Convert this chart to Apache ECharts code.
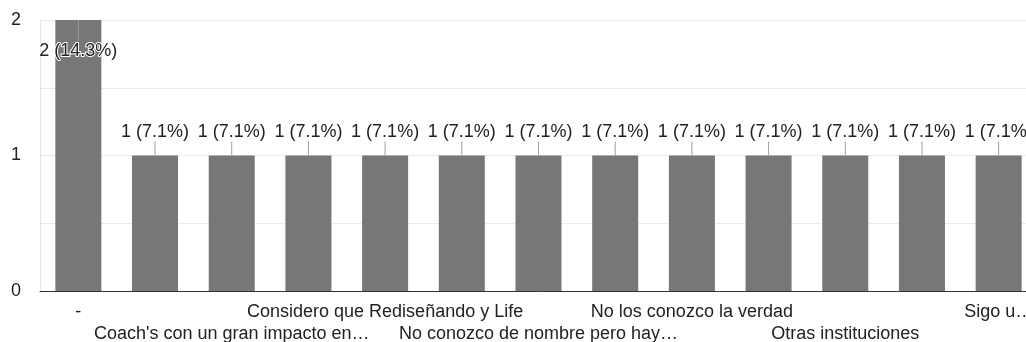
<!DOCTYPE html>
<html>
<head>
<meta charset="utf-8">
<script src="https://cdn.jsdelivr.net/npm/echarts@6/dist/echarts.min.js"></script>
<style>
  html, body { margin: 0; padding: 0; background: #fff; overflow: hidden; }
  #wrap { width: 1026px; height: 342px; overflow: hidden; }
  /* the plot runs a little past the right edge of the view */
  #chart { width: 1037px; height: 342px; }
</style>
</head>
<body>
<div id="wrap"><div id="chart"></div></div>
<script>
// Responses per option (alphabetical order of the answers)
const categories = [
  '-',
  'Charlas y talleres',
  "Coach's con un gran impacto en…",
  'Conozco algunos',
  'Considero que Rediseñando y Life',
  'Ninguno',
  'No conozco de nombre pero hay…',
  'No conozco ninguno',
  'No los conozco la verdad',
  'No sé',
  'Otras instituciones',
  'Rediseñando y Life',
  'Sigo u…'
];
const counts = [2, 1, 1, 1, 1, 1, 1, 1, 1, 1, 1, 1, 1];
const yTicks = [0, 1, 2];

const FONT = '"Liberation Sans", Arial, sans-serif';
const total = counts.reduce((a, b) => a + b, 0);
const maxCount = Math.max(...counts);

const barData = counts.map(v => v === maxCount
  ? { value: v, label: { position: 'insideTop', distance: 22 } }
  : v);

const chart = echarts.init(document.getElementById('chart'), null, { renderer: 'canvas' });
chart.setOption({
  animation: false,
  backgroundColor: '#fff',
  textStyle: { fontFamily: FONT },
  grid: {
    left: 40, top: 20, right: 0, height: 271,
    containLabel: false,
    outerBoundsMode: 'none'
  },
  xAxis: {
    type: 'category',
    data: categories,
    axisTick: { show: false },
    axisLine: { show: true, lineStyle: { color: '#333', width: 1 } },
    axisLabel: {
      interval: 0,
      margin: 10,
      color: '#222',
      fontSize: 18,
      fontFamily: FONT,
      lineHeight: 22,
      formatter: (val, idx) => {
        if (idx % 2 === 1) return '';
        return idx % 4 === 2 ? '\n' + val : val;
      }
    }
  },
  yAxis: {
    type: 'value',
    min: yTicks[0],
    max: yTicks[yTicks.length - 1],
    interval: 0.5,
    axisLine: { show: true, lineStyle: { color: '#e6e6e6' } },
    axisTick: { show: false },
    splitLine: { lineStyle: { color: '#ebebeb', width: 1 } },
    axisLabel: {
      margin: 19,
      color: '#222',
      fontSize: 18,
      fontFamily: FONT,
      formatter: v => (yTicks.includes(v) ? String(v) : '')
    }
  },
  series: [
    {
      type: 'bar',
      data: barData,
      barWidth: '60%',
      itemStyle: { color: '#777777' },
      label: {
        show: true,
        position: 'top',
        distance: 14,
        color: '#222',
        fontSize: 18,
        fontFamily: FONT,
        textBorderColor: '#fff',
        textBorderWidth: 2,
        formatter: p => `${p.value} (${(p.value / total * 100).toFixed(1)}%)`
      },
      z: 2
    },
    {
      // leader lines joining each value label to its bar
      type: 'custom',
      data: counts.map((v, i) => [i, v]),
      renderItem: (params, api) => {
        const v = api.value(1);
        const p = api.coord([api.value(0), v]);
        const inside = v === maxCount;
        return {
          type: 'line',
          shape: { x1: p[0], y1: p[1], x2: p[0], y2: inside ? p[1] + 21 : p[1] - 14 },
          style: { stroke: '#9e9e9e', lineWidth: 1 }
        };
      },
      silent: true,
      z: 3
    }
  ]
});
</script>
</body>
</html>
